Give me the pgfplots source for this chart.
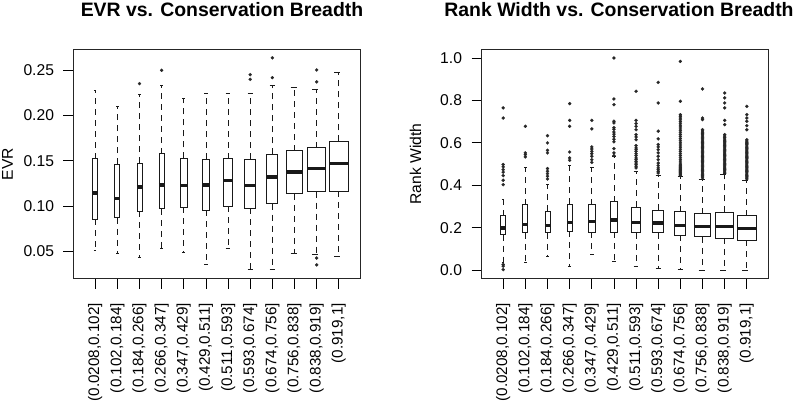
\documentclass[border=0pt]{standalone}
\usepackage{pgfplots}
\pgfplotsset{compat=1.18}
\usepgfplotslibrary{statistics}
\usepackage{fontspec}
\setmainfont{Liberation Sans}
\begin{document}
\begin{tikzpicture}
\useasboundingbox (0,0) rectangle (803bp,403bp);
\pgfplotsset{
  rbox/.style={black!90, line width=0.85bp, mark=*, mark size=1.6bp,
    mark options={solid, fill=black!85, draw=black!85, line width=0.2bp}},
  boxplot/draw direction=y,
  boxplot/every median/.style={line width=3.3bp},
  boxplot/every whisker/.style={dash pattern=on 6bp off 5bp},
  common/.style={
    scale only axis, width=287bp, height=229.2bp,
    xmin=0.02, xmax=12.98,
    xtick={1,2,3,4,5,6,7,8,9,10,11,12},
    xticklabels={{(0.0208,0.102]},{(0.102,0.184]},{(0.184,0.266]},{(0.266,0.347]},{(0.347,0.429]},{(0.429,0.511]},{(0.511,0.593]},{(0.593,0.674]},{(0.674,0.756]},{(0.756,0.838]},{(0.838,0.919]},{(0.919,1]}},
    x tick label style={yshift=-11bp, rotate=90, anchor=east, font=\fontsize{15.3}{15.3}\selectfont},
    y tick label style={xshift=-6bp, font=\fontsize{15.7}{15.7}\selectfont},
    tick align=outside, tick pos=left, major tick length=10bp,
    every tick/.style={black, line width=0.8bp},
    axis line style={line width=0.8bp, black!85},
    every axis title/.style={at={(axis description cs:0.5,1)}, anchor=base, yshift=32.5bp,
      font=\bfseries\fontsize{19.5}{20}\selectfont},
    every axis y label/.style={at={(axis description cs:-0.23,0.5)}, rotate=90, anchor=center,
      font=\fontsize{15.7}{15.7}\selectfont},
    clip=false,
  },
}
% ---------------- Left panel: EVR ----------------
\begin{axis}[common, at={(73.5bp,124.3bp)}, anchor=south west,
  ymin=0.0197, ymax=0.273,
  ytick={0.05,0.10,0.15,0.20,0.25}, yticklabels={0.05,0.10,0.15,0.20,0.25},
  title={EVR vs. Conservation Breadth}, title style={xshift=5bp},
  ylabel={EVR}]
\addplot[rbox, boxplot prepared={draw position=1, lower whisker=0.0507, lower quartile=0.0852, median=0.1145, upper quartile=0.1522, upper whisker=0.2273, box extend=0.22, whisker extend=0.11}] coordinates {};
\addplot[rbox, boxplot prepared={draw position=2, lower whisker=0.0474, lower quartile=0.087, median=0.1086, upper quartile=0.1463, upper whisker=0.2104, box extend=0.22, whisker extend=0.11}] coordinates {};
\addplot[rbox, boxplot prepared={draw position=3, lower whisker=0.0434, lower quartile=0.094, median=0.1211, upper quartile=0.1474, upper whisker=0.2233, box extend=0.23, whisker extend=0.115}] table[row sep=\\, y index=0] {d\\ 0.2353\\};
\addplot[rbox, boxplot prepared={draw position=4, lower whisker=0.0537, lower quartile=0.0969, median=0.1233, upper quartile=0.158, upper whisker=0.2328, box extend=0.24, whisker extend=0.12}] table[row sep=\\, y index=0] {d\\ 0.25\\};
\addplot[rbox, boxplot prepared={draw position=5, lower whisker=0.0485, lower quartile=0.0987, median=0.1229, upper quartile=0.1526, upper whisker=0.2192, box extend=0.31, whisker extend=0.155}] coordinates {};
\addplot[rbox, boxplot prepared={draw position=6, lower whisker=0.0360, lower quartile=0.0951, median=0.1233, upper quartile=0.1518, upper whisker=0.2244, box extend=0.34, whisker extend=0.17}] coordinates {};
\addplot[rbox, boxplot prepared={draw position=7, lower whisker=0.0537, lower quartile=0.0997, median=0.1282, upper quartile=0.1522, upper whisker=0.2244, box extend=0.43, whisker extend=0.215}] coordinates {};
\addplot[rbox, boxplot prepared={draw position=8, lower whisker=0.0296, lower quartile=0.0973, median=0.1225, upper quartile=0.1518, upper whisker=0.2244, box extend=0.48, whisker extend=0.24}] table[row sep=\\, y index=0] {d\\ 0.2452\\ 0.2400\\};
\addplot[rbox, boxplot prepared={draw position=9, lower whisker=0.0305, lower quartile=0.1027, median=0.1322, upper quartile=0.1571, upper whisker=0.2328, box extend=0.50, whisker extend=0.25}] table[row sep=\\, y index=0] {d\\ 0.2638\\ 0.2419\\};
\addplot[rbox, boxplot prepared={draw position=10, lower whisker=0.0478, lower quartile=0.1134, median=0.1375, upper quartile=0.161, upper whisker=0.2310, box extend=0.72, whisker extend=0.36}] coordinates {};
\addplot[rbox, boxplot prepared={draw position=11, lower whisker=0.0467, lower quartile=0.1159, median=0.1416, upper quartile=0.1643, upper whisker=0.2284, box extend=0.80, whisker extend=0.40}] table[row sep=\\, y index=0] {d\\ 0.2504\\ 0.2372\\ 0.0425\\ 0.0350\\};
\addplot[rbox, boxplot prepared={draw position=12, lower whisker=0.0445, lower quartile=0.1163, median=0.1471, upper quartile=0.1716, upper whisker=0.2474, box extend=0.85, whisker extend=0.425}] coordinates {};
\end{axis}
% ---------------- Right panel: Rank Width ----------------
\begin{axis}[common, at={(481.5bp,124.3bp)}, anchor=south west,
  ymin=-0.04, ymax=1.04,
  ytick={0,0.2,0.4,0.6,0.8,1.0}, yticklabels={0.0,0.2,0.4,0.6,0.8,1.0},
  title={Rank Width vs. Conservation Breadth}, title style={xshift=-6bp},
  ylabel={Rank Width}]
\addplot[rbox, boxplot prepared={draw position=1, lower whisker=0.039, lower quartile=0.168, median=0.199, upper quartile=0.257, upper whisker=0.333, box extend=0.22, whisker extend=0.11}] table[row sep=\\, y index=0] {d\\ 0.765\\ 0.717\\ 0.498\\ 0.487\\ 0.474\\ 0.462\\ 0.446\\ 0.424\\ 0.403\\ 0.027\\ 0.019\\ 0.003\\};
\addplot[rbox, boxplot prepared={draw position=2, lower whisker=0.038, lower quartile=0.176, median=0.215, upper quartile=0.309, upper whisker=0.482, box extend=0.22, whisker extend=0.11}] table[row sep=\\, y index=0] {d\\ 0.678\\ 0.553\\ 0.545\\ 0.534\\};
\addplot[rbox, boxplot prepared={draw position=3, lower whisker=0.063, lower quartile=0.176, median=0.212, upper quartile=0.278, upper whisker=0.403, box extend=0.23, whisker extend=0.115}] table[row sep=\\, y index=0] {d\\ 0.634\\ 0.600\\ 0.565\\ 0.553\\ 0.479\\ 0.466\\ 0.455\\ 0.443\\ 0.430\\};
\addplot[rbox, boxplot prepared={draw position=4, lower whisker=0.019, lower quartile=0.184, median=0.226, upper quartile=0.312, upper whisker=0.495, box extend=0.24, whisker extend=0.12}] table[row sep=\\, y index=0] {d\\ 0.785\\ 0.706\\ 0.678\\ 0.557\\ 0.529\\ 0.518\\};
\addplot[rbox, boxplot prepared={draw position=5, lower whisker=0.074, lower quartile=0.179, median=0.231, upper quartile=0.309, upper whisker=0.482, box extend=0.31, whisker extend=0.155}] table[row sep=\\, y index=0] {d\\ 0.706\\ 0.666\\ 0.581\\ 0.571\\ 0.560\\ 0.549\\ 0.537\\ 0.521\\ 0.508\\};
\addplot[rbox, boxplot prepared={draw position=6, lower whisker=0.042, lower quartile=0.179, median=0.237, upper quartile=0.322, upper whisker=0.534, box extend=0.34, whisker extend=0.17}] table[row sep=\\, y index=0] {d\\ 1.000\\ 0.807\\ 0.780\\ 0.702\\ 0.694\\ 0.672\\ 0.664\\ 0.651\\ 0.641\\ 0.630\\ 0.617\\ 0.605\\ 0.573\\ 0.553\\ 0.540\\};
\addplot[rbox, boxplot prepared={draw position=7, lower whisker=0.016, lower quartile=0.176, median=0.226, upper quartile=0.298, upper whisker=0.466, box extend=0.43, whisker extend=0.215}] table[row sep=\\, y index=0] {d\\ 0.843\\ 0.706\\ 0.691\\ 0.678\\ 0.662\\ 0.639\\ 0.628\\ 0.615\\ 0.587\\ 0.576\\ 0.568\\ 0.560\\ 0.549\\ 0.540\\ 0.529\\ 0.521\\ 0.513\\ 0.505\\ 0.498\\ 0.490\\ 0.482\\};
\addplot[rbox, boxplot prepared={draw position=8, lower whisker=0.008, lower quartile=0.176, median=0.223, upper quartile=0.284, upper whisker=0.446, box extend=0.48, whisker extend=0.24}] table[row sep=\\, y index=0] {d\\ 0.885\\ 0.788\\ 0.655\\ 0.619\\ 0.592\\ 0.581\\ 0.568\\ 0.553\\ 0.537\\ 0.521\\ 0.505\\ 0.493\\ 0.482\\ 0.474\\ 0.466\\ 0.458\\};
\addplot[rbox, boxplot prepared={draw position=9, lower whisker=0.006, lower quartile=0.165, median=0.212, upper quartile=0.276, upper whisker=0.440, box extend=0.50, whisker extend=0.25}] table[row sep=\\, y index=0] {d\\ 0.984\\ 0.796\\ 0.733\\ 0.725\\ 0.717\\ 0.709\\ 0.700\\ 0.690\\ 0.680\\ 0.670\\ 0.660\\ 0.650\\ 0.640\\ 0.630\\ 0.620\\ 0.610\\ 0.600\\ 0.590\\ 0.580\\ 0.570\\ 0.560\\ 0.550\\ 0.540\\ 0.530\\ 0.520\\ 0.510\\ 0.500\\ 0.495\\ 0.490\\ 0.485\\ 0.480\\ 0.475\\ 0.470\\ 0.465\\ 0.460\\ 0.455\\ 0.450\\ 0.445\\};
\addplot[rbox, boxplot prepared={draw position=10, lower whisker=0.0, lower quartile=0.157, median=0.207, upper quartile=0.267, upper whisker=0.430, box extend=0.72, whisker extend=0.36}] table[row sep=\\, y index=0] {d\\ 0.854\\ 0.717\\ 0.710\\ 0.662\\ 0.656\\ 0.650\\ 0.644\\ 0.638\\ 0.632\\ 0.626\\ 0.620\\ 0.614\\ 0.608\\ 0.602\\ 0.596\\ 0.590\\ 0.584\\ 0.578\\ 0.572\\ 0.566\\ 0.560\\ 0.554\\ 0.548\\ 0.542\\ 0.536\\ 0.530\\ 0.524\\ 0.518\\ 0.512\\ 0.506\\ 0.500\\ 0.494\\ 0.488\\ 0.482\\ 0.476\\ 0.470\\ 0.464\\ 0.458\\ 0.452\\ 0.446\\ 0.440\\ 0.435\\};
\addplot[rbox, boxplot prepared={draw position=11, lower whisker=0.0, lower quartile=0.152, median=0.207, upper quartile=0.273, upper whisker=0.450, box extend=0.80, whisker extend=0.40}] table[row sep=\\, y index=0] {d\\ 0.835\\ 0.812\\ 0.788\\ 0.765\\ 0.706\\ 0.686\\ 0.639\\ 0.632\\ 0.625\\ 0.618\\ 0.612\\ 0.606\\ 0.600\\ 0.594\\ 0.588\\ 0.582\\ 0.576\\ 0.570\\ 0.564\\ 0.558\\ 0.552\\ 0.546\\ 0.540\\ 0.534\\ 0.528\\ 0.522\\ 0.516\\ 0.510\\ 0.504\\ 0.498\\ 0.492\\ 0.486\\ 0.480\\ 0.474\\ 0.468\\ 0.462\\ 0.456\\};
\addplot[rbox, boxplot prepared={draw position=12, lower whisker=0.0, lower quartile=0.141, median=0.195, upper quartile=0.257, upper whisker=0.424, box extend=0.85, whisker extend=0.425}] table[row sep=\\, y index=0] {d\\ 0.772\\ 0.733\\ 0.717\\ 0.702\\ 0.681\\ 0.662\\ 0.615\\ 0.609\\ 0.603\\ 0.597\\ 0.591\\ 0.585\\ 0.579\\ 0.573\\ 0.567\\ 0.561\\ 0.555\\ 0.549\\ 0.543\\ 0.537\\ 0.531\\ 0.525\\ 0.519\\ 0.513\\ 0.507\\ 0.501\\ 0.495\\ 0.489\\ 0.483\\ 0.477\\ 0.471\\ 0.465\\ 0.459\\ 0.453\\ 0.447\\ 0.441\\ 0.435\\ 0.430\\};
\end{axis}
\end{tikzpicture}
\end{document}
